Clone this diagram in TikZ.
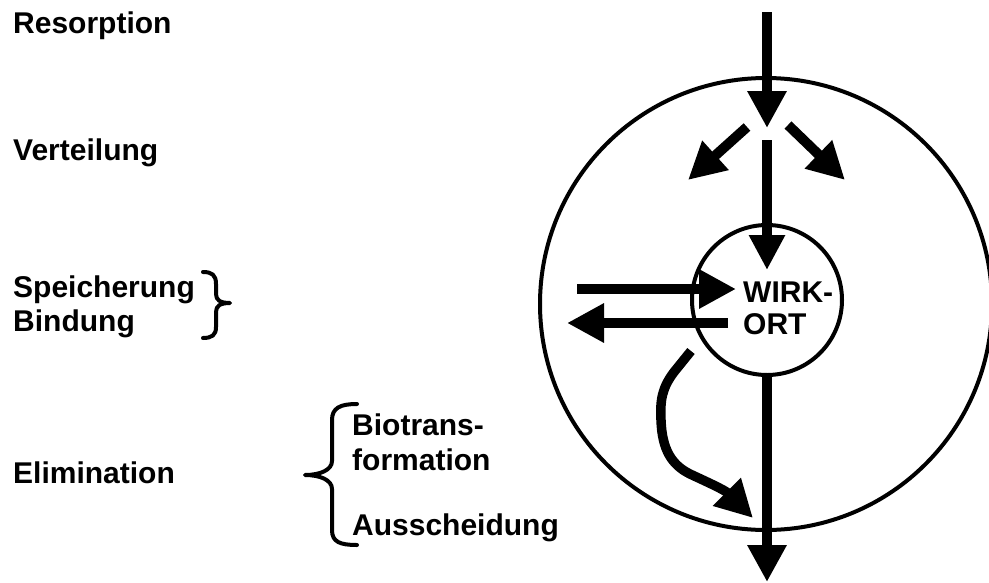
\documentclass[tikz,border=0pt]{standalone}
\usepackage{fontspec}
\setmainfont{Liberation Sans}
\usetikzlibrary{arrows.meta}
\begin{document}
\begin{tikzpicture}[x=1pt,y=-1pt,
  lbl/.style={inner sep=0pt,anchor=base west,font=\fontsize{30}{34}\selectfont\bfseries},
  ring/.style={draw,circle,line width=4pt,inner sep=0pt},
  flow/.style={line width=10pt,-{Triangle[length=37pt,width=37pt]}},
  bracket/.style={line width=4pt,line cap=round,line join=round}]
\useasboundingbox (0,0) rectangle (989,582);

% compartments
\node[ring,minimum size=452pt] (body) at (766,304) {};
\node[ring,minimum size=150pt] (wirkort) at (767,300) {};

% labels on the left
\node[lbl] (resorption) at (13,33) {Resorption};
\node[lbl] (verteilung) at (13,160) {Verteilung};
\node[lbl] (speicherung) at (13,297) {Speicherung};
\node[lbl] (bindung) at (13,331) {Bindung};
\node[lbl] (elimination) at (13,483) {Elimination};
\node[lbl] (biotrans) at (352,435) {Biotrans-};
\node[lbl] (formation) at (352,470) {formation};
\node[lbl] (ausscheidung) at (352,535) {Ausscheidung};
\node[lbl] (wirk) at (743,302) {WIRK-};
\node[lbl] (ort) at (743,334) {ORT};

% braces
\draw[bracket] (203,272) .. controls (212,272) and (216,275) .. (216,284) -- (216,294)
  .. controls (216,300) and (220,303) .. (230,303)
  .. controls (220,303) and (216,306) .. (216,312) -- (216,327)
  .. controls (216,335) and (212,338) .. (203,338);
\draw[bracket] (357,404) .. controls (340,404) and (332,408) .. (332,420) -- (332,461)
  .. controls (332,470) and (320,475) .. (305,475)
  .. controls (320,475) and (332,480) .. (332,489) -- (332,530)
  .. controls (332,542) and (340,545) .. (357,545);

% end points of the flows
\coordinate (in0) at (767,12);
\coordinate (in1) at (767,128);
\coordinate (c0) at (767,140);
\coordinate (c1) at (767,270);
\coordinate (l0) at (747,127);
\coordinate (l1) at (688,180);
\coordinate (r0) at (788,125);
\coordinate (r1) at (845,180);
\coordinate (h0) at (577,289);
\coordinate (h1) at (736,289);
\coordinate (b0) at (728,323);
\coordinate (b1) at (567,323);
\coordinate (m0) at (691,351);
\coordinate (m1) at (753,518);
\coordinate (out1) at (767,582);

% flows
\draw[flow] (in0) -- (in1);
\draw[flow,-{Triangle[length=35pt,width=34pt]}] (c0) -- (c1);
\draw[flow] (l0) -- (l1);
\draw[flow] (r0) -- (r1);
\draw[flow] (h0) -- (h1);
\draw[flow] (b0) -- (b1);
\draw[flow] (wirkort.south) -- (out1);
\draw[flow,line width=9.5pt] (m0) -- (674,372) .. controls (662,388) and (660,400) .. (661,420)
  .. controls (662,450) and (672,465) .. (690,474)
  .. controls (705,481) and (725,490) .. (m1);
\end{tikzpicture}
\end{document}
